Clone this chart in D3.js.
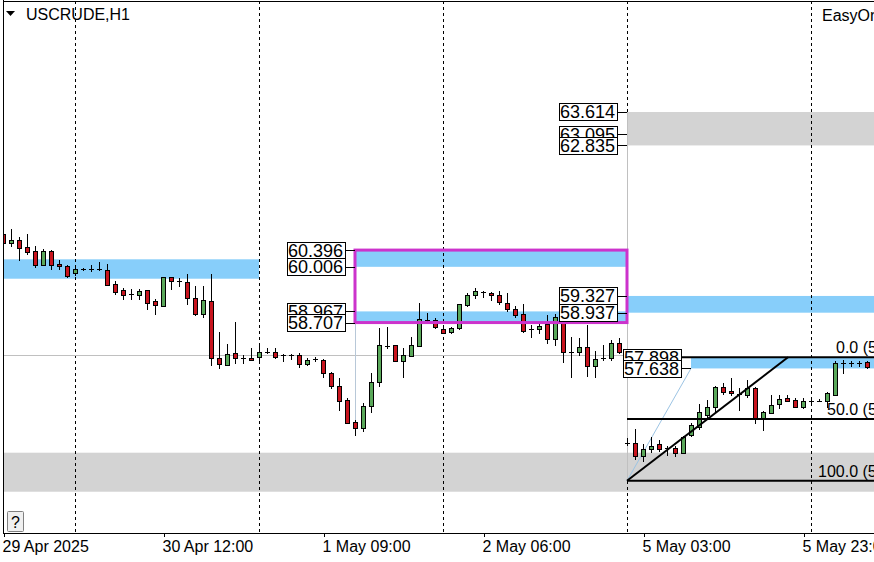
<!DOCTYPE html>
<html><head><meta charset="utf-8">
<script src="https://cdn.jsdelivr.net/npm/d3@7/dist/d3.min.js"></script>
<style>
html,body{margin:0;padding:0;background:#fff;}
svg{display:block;font-family:"Liberation Sans",Arial,sans-serif;}
</style></head>
<body><svg id="c" width="874" height="562"></svg>
<script>
// ---- data ----
const symbol = "USCRUDE,H1";
const indicatorName = "EasyOrder";
const opens  = [60.78,60.55,60.62,60.47,60.37,60.06,60.37,60.08,60.02,59.87,59.96,59.96,59.95,59.93,59.61,59.46,59.37,59.34,59.46,59.20,
59.10,59.77,59.68,59.65,59.27,58.90,59.21,57.88,57.72,57.99,57.89,57.88,57.91,58.03,58.03,57.94,57.95,57.95,57.75,57.83,
57.84,57.54,57.22,56.90,56.38,56.24,56.76,57.33,58.16,58.18,57.82,57.93,58.17,58.77,58.77,58.55,58.48,58.57,59.12,59.35,
59.42,59.40,59.35,59.17,59.02,58.90,58.55,58.55,58.67,58.32,58.83,58.01,58.03,58.13,57.69,57.88,57.88,58.24,
55.91,55.91,55.59,55.76,55.88,55.78,55.78,55.67,56.08,56.28,56.55,56.73,57.20,57.11,57.04,57.03,57.18,56.48,56.61,56.81,
56.94,56.90,56.75,56.89,56.89,56.87,57.03,57.76,57.76,57.76,57.78];
const highs  = [60.93,60.89,60.70,60.78,60.49,60.41,60.39,60.16,60.06,60.00,59.98,60.04,60.13,60.08,59.67,59.51,59.50,59.50,59.47,59.26,
59.78,59.78,59.74,59.83,59.57,59.57,59.83,58.48,58.20,58.73,57.94,58.12,58.19,58.11,58.11,57.97,57.98,57.99,57.88,57.90,
57.85,57.55,57.41,56.94,56.44,56.84,57.53,58.57,58.61,58.19,58.11,58.38,59.17,58.92,58.81,58.57,58.60,59.15,59.40,59.51,
59.44,59.43,59.44,59.39,59.09,59.14,58.65,58.69,58.88,58.91,58.88,58.36,58.34,58.65,58.05,58.19,58.30,58.34,
56.02,56.22,55.88,56.05,55.97,55.82,55.82,56.06,56.37,56.81,56.90,57.23,57.31,57.41,57.18,57.37,57.21,56.64,57.03,57.03,
57.03,56.94,56.94,56.94,56.92,57.10,57.80,57.84,57.82,57.82,57.82];
const lows   = [60.43,60.49,60.16,60.31,60.00,60.05,59.96,59.96,59.77,59.82,59.94,59.90,59.93,59.58,59.38,59.26,59.25,59.26,59.03,58.91,
59.10,59.49,59.57,59.13,58.88,58.84,57.72,57.65,57.71,57.77,57.77,57.83,57.80,57.99,57.88,57.80,57.86,57.68,57.72,57.80,
57.44,57.18,56.66,56.36,56.08,56.19,56.63,57.23,58.12,57.80,57.44,57.92,58.16,58.70,58.57,58.46,58.47,58.56,59.09,59.27,
59.31,59.23,59.14,58.98,58.83,58.49,58.38,58.46,58.23,58.19,57.78,57.44,57.94,57.46,57.45,57.84,57.83,58.00,
55.85,55.53,55.49,55.70,55.72,55.62,55.60,55.66,56.06,56.22,56.50,56.63,57.05,57.03,56.67,56.98,56.37,56.21,56.60,56.71,
56.87,56.73,56.71,56.84,56.87,56.75,57.02,57.53,57.70,57.70,57.64];
const closes = [60.55,60.62,60.45,60.35,60.06,60.37,60.06,60.02,59.79,59.95,59.965,59.965,59.945,59.59,59.42,59.36,59.365,59.44,59.17,59.11,
59.77,59.68,59.675,59.29,58.90,59.23,57.88,57.74,57.97,57.89,57.885,57.84,58.03,58.025,57.91,57.935,57.955,57.74,57.84,57.86,
57.53,57.23,56.89,56.37,56.24,56.77,57.33,58.18,58.165,57.82,57.95,58.18,58.78,58.765,58.60,58.47,58.59,59.14,59.35,59.44,
59.415,59.35,59.18,59.02,58.88,58.52,58.545,58.63,58.32,58.83,58.01,58.00,58.13,57.70,57.86,57.885,58.24,58.03,
55.905,55.60,55.76,55.84,55.76,55.775,55.66,56.03,56.31,56.63,56.73,57.20,57.10,57.06,57.035,57.18,56.48,56.63,56.79,56.92,
56.89,56.75,56.89,56.885,56.885,57.06,57.76,57.765,57.765,57.765,57.66];

const timeTickIdx = [0,20,40,60,80,100];
const timeTickLabels = ["29 Apr 2025","30 Apr 12:00","1 May 09:00","2 May 06:00","5 May 03:00","5 May 23:00"];
const gridIdx = [9,32,55,78,101];

// zones: [startIdx, endIdx, priceTop, priceBottom, kind]
const zoneStart = [-2, 44, 44, 78, 78, 86, -2];
const zoneEnd   = [32, 78, 78, 130, 130, 130, 130];
const zoneTop   = [60.181, 60.396, 58.967, 59.327, 63.614, 57.898, 55.674];
const zoneBot   = [59.729, 60.006, 58.707, 58.937, 62.835, 57.638, 54.765];
const zoneKind  = ["blue","blue","blue","blue","gray","blue","gray"];

// price label boxes: price, index of object start
const labelPrices = [60.396, 60.006, 58.967, 58.707, 63.614, 63.095, 62.835, 59.327, 58.937, 57.898, 57.638];
const labelAnchor = [44, 44, 44, 44, 78, 78, 78, 78, 78, 86, 86];
const labelTexts  = ["60.396","60.006","58.967","58.707","63.614","63.095","62.835","59.327","58.937","57.898","57.638"];

// fibonacci
const fibLevels = [0, 50, 100];
const fibPrices = [57.898, 56.459, 55.020];
const fibTexts  = ["0.0 (57.898)","50.0 (56.459)","100.0 (55.020)"];
const fibStartIdx = 78, fibEndIdx = 98;

// ---- scales ----
const svg = d3.select("#c");
const left = 3, plotBottom = 533, plotTop = 1;
const x = d3.scaleLinear().domain([0, 109]).range([3, 3 + 8 * 109]);
const y = d3.scaleLinear().domain([53.803, 66.224]).range([533, 0]);
const colors = {blue:"#87cefa", gray:"#d3d3d3"};

svg.append("defs").append("clipPath").attr("id","plot")
  .append("rect").attr("x",left).attr("y",plotTop).attr("width",874-left).attr("height",plotBottom-plotTop);
const g = svg.append("g").attr("clip-path","url(#plot)");

// zones
zoneTop.forEach((t,i)=>{
  g.append("rect")
    .attr("x", x(zoneStart[i]))
    .attr("y", y(t))
    .attr("width", x(zoneEnd[i]) - x(zoneStart[i]))
    .attr("height", y(zoneBot[i]) - y(t))
    .attr("fill", colors[zoneKind[i]]);
});

// grid
gridIdx.forEach(k=>{
  g.append("line").attr("x1",x(k)+0.5).attr("x2",x(k)+0.5).attr("y1",plotTop).attr("y2",plotBottom)
    .attr("stroke","#000").attr("stroke-width",1).attr("stroke-dasharray","3,3").attr("shape-rendering","crispEdges");
});

// thin grey lines
g.append("line").attr("x1",left).attr("x2",x(78)).attr("y1",Math.round(y(57.951))+0.5).attr("y2",Math.round(y(57.951))+0.5)
  .attr("stroke","#c0c0c0").attr("shape-rendering","crispEdges");
g.append("line").attr("x1",x(78)+0.5).attr("x2",x(78)+0.5).attr("y1",y(63.614)).attr("y2",y(55.020))
  .attr("stroke","#c0c0c0").attr("shape-rendering","crispEdges");
g.append("line").attr("x1",x(44)+0.5).attr("x2",x(44)+0.5).attr("y1",y(58.707)).attr("y2",y(56.08))
  .attr("stroke","#b8c8d8").attr("shape-rendering","crispEdges");
g.append("line").attr("x1",x(fibStartIdx)).attr("y1",y(55.020)).attr("x2",x(86)).attr("y2",y(57.638))
  .attr("stroke","#9cc4e4").attr("stroke-width",1);

// candles
const cg = g.append("g");
opens.forEach((o,i)=>{
  const c = closes[i], cx = Math.round(x(i));
  cg.append("line").attr("x1",cx+0.5).attr("x2",cx+0.5)
    .attr("y1",Math.round(y(highs[i]))).attr("y2",Math.round(y(lows[i]))+1)
    .attr("stroke","#000").attr("shape-rendering","crispEdges");
  const yt = Math.round(y(Math.max(o,c))), yb = Math.round(y(Math.min(o,c)));
  if (yb - yt < 2) {
    cg.append("line").attr("x1",cx-2).attr("x2",cx+3).attr("y1",yt+0.5).attr("y2",yt+0.5)
      .attr("stroke","#000").attr("shape-rendering","crispEdges");
  } else {
    cg.append("rect").attr("x",cx-1.5).attr("y",yt+0.5).attr("width",4).attr("height",yb-yt)
      .attr("fill", c >= o ? "#5aa85a" : "#c8141e")
      .attr("stroke","#000").attr("stroke-width",1).attr("shape-rendering","crispEdges");
  }
});

// magenta rectangle
g.append("rect").attr("x",x(44)).attr("y",y(60.396)).attr("width",x(78)-x(44)).attr("height",y(58.707)-y(60.396))
  .attr("fill","none").attr("stroke","#cc33cc").attr("stroke-width",3);

// fibonacci
fibPrices.forEach((p,i)=>{
  g.append("line").attr("x1",x(fibStartIdx)).attr("x2",x(130)).attr("y1",y(p)).attr("y2",y(p))
    .attr("stroke","#000").attr("stroke-width",2);
});
g.append("line").attr("x1",x(fibStartIdx)).attr("y1",y(fibPrices[2])).attr("x2",x(fibEndIdx)+1).attr("y2",y(fibPrices[0]))
  .attr("stroke","#000").attr("stroke-width",2);
const fibTextX = [836, 827, 818];
fibTexts.forEach((t,i)=>{
  g.append("text").attr("x",fibTextX[i]).attr("y",y(fibPrices[i]) - 4).attr("font-size",16).attr("fill","#000").text(t);
});

// price label boxes
labelPrices.forEach((p,i)=>{
  const right = Math.round(x(labelAnchor[i])) - 10, cy = y(p);
  g.append("line").attr("x1",right).attr("x2",x(labelAnchor[i])).attr("y1",Math.round(cy)+0.5).attr("y2",Math.round(cy)+0.5)
    .attr("stroke","#000").attr("shape-rendering","crispEdges");
  g.append("rect").attr("x",right-58+0.5).attr("y",Math.round(cy-8.5)+0.5).attr("width",58).attr("height",17)
    .attr("fill","#fff").attr("stroke","#000").attr("shape-rendering","crispEdges");
  g.append("text").attr("x",right-57).attr("y",cy+6.5).attr("font-size",18).attr("fill","#000").text(labelTexts[i]);
});

// frame
svg.append("line").attr("x1",left+0.5).attr("x2",left+0.5).attr("y1",0).attr("y2",plotBottom+0.5)
  .attr("stroke","#000").attr("shape-rendering","crispEdges");
svg.append("line").attr("x1",left).attr("x2",874).attr("y1",1.5).attr("y2",1.5)
  .attr("stroke","#000").attr("shape-rendering","crispEdges");

// time axis
const axis = d3.axisBottom(x).tickValues(timeTickIdx).tickFormat((d,i)=>timeTickLabels[i]).tickSize(4).tickSizeOuter(0);
const ax = svg.append("g").attr("transform",`translate(0,${plotBottom})`).call(axis);
ax.select(".domain").attr("d",`M${left},0.5H874`).attr("stroke","#000").attr("shape-rendering","crispEdges");
ax.selectAll(".tick line").attr("stroke","#000").attr("transform","translate(0.5,0)").attr("shape-rendering","crispEdges");
ax.selectAll(".tick text").attr("text-anchor","start").attr("x",-1).attr("y",0).attr("dy",0)
  .attr("transform","translate(0,19)").attr("font-size",16).attr("fill","#000")
  .attr("font-family",'"Liberation Sans",Arial,sans-serif');

// header
svg.append("path").attr("d","M6,11 L15,11 L10.5,16 Z").attr("fill","#000");
svg.append("text").attr("x",26).attr("y",20).attr("font-size",16).attr("fill","#000").text(symbol);
svg.append("text").attr("x",822).attr("y",21).attr("font-size",16).attr("fill","#000").text(indicatorName);

// help button
svg.append("rect").attr("x",7.5).attr("y",511.5).attr("width",16).attr("height",20)
  .attr("fill","#f0f0f0").attr("stroke","#808080").attr("rx",1);
svg.append("text").attr("x",15.5).attr("y",528).attr("text-anchor","middle").attr("font-size",16).attr("fill","#000").text("?");
</script></body></html>
